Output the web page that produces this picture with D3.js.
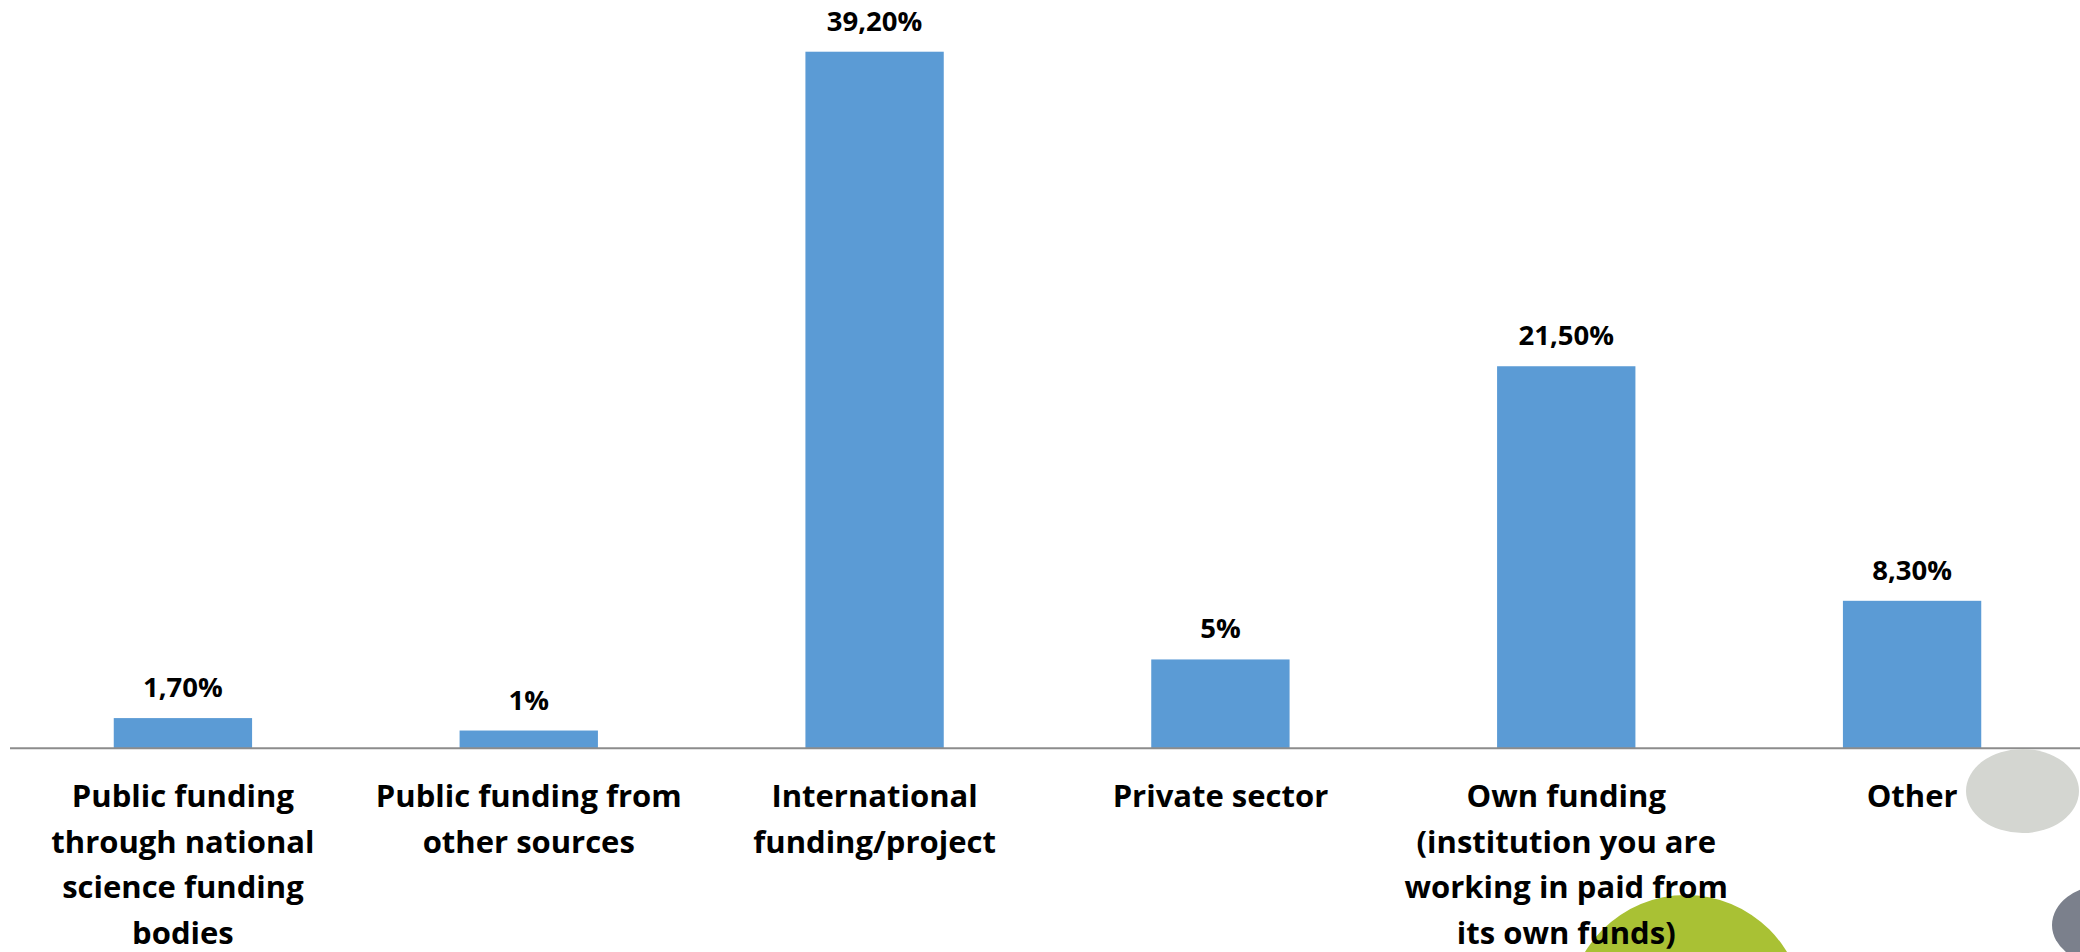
<!DOCTYPE html>
<html>
<head>
<meta charset="utf-8">
<script src="https://cdn.jsdelivr.net/npm/d3@7"></script>
<style>
  html, body { margin: 0; padding: 0; background: #ffffff; }
  svg { display: block; }
</style>
</head>
<body>
<svg id="chart" width="2080" height="952"></svg>
<script>
// ---- data ----
const categories = [
  "Public funding\nthrough national\nscience funding\nbodies",
  "Public funding from\nother sources",
  "International\nfunding/project",
  "Private sector",
  "Own funding\n(institution you are\nworking in paid from\nits own funds)",
  "Other"
];
const values = [1.7, 1, 39.2, 5, 21.5, 8.3];
const valueLabels = ["1,70%", "1%", "39,20%", "5%", "21,50%", "8,30%"];

// ---- layout ----
const W = 2080, H = 952;
const baseY = 748.3;
const svg = d3.select("#chart");

const x = d3.scaleBand()
  .domain(d3.range(categories.length))
  .range([10, 2085])
  .paddingInner(0.6)
  .paddingOuter(0.3);

const y = d3.scaleLinear()
  .domain([0, 40])
  .range([baseY, baseY - 710.8]);

// bars
svg.append("g").selectAll("rect")
  .data(values)
  .join("rect")
  .attr("x", (d, i) => x(i))
  .attr("width", x.bandwidth())
  .attr("y", d => y(d))
  .attr("height", d => y(0) - y(d))
  .attr("fill", "#5b9bd5");

// value labels
svg.append("g").selectAll("text")
  .data(values)
  .join("text")
  .attr("x", (d, i) => x(i) + x.bandwidth() / 2)
  .attr("y", d => y(d) - 21)
  .attr("text-anchor", "middle")
  .attr("font-family", "'Open Sans', Lato, sans-serif")
  .attr("font-weight", "bold")
  .attr("font-size", 27.5)
  .attr("fill", "#000")
  .text((d, i) => valueLabels[i]);

// axis line
const axis = d3.axisBottom(x).tickSize(0).tickFormat("");
const ax = svg.append("g").attr("transform", `translate(0,${baseY})`).call(axis);
ax.select(".domain").remove();
ax.append("line")
  .attr("x1", 10).attr("x2", W)
  .attr("y1", 0).attr("y2", 0)
  .attr("stroke", "#8c8c8c")
  .attr("stroke-width", 2);

// category labels
const catG = svg.append("g").selectAll("text")
  .data(categories)
  .join("text")
  .attr("text-anchor", "middle")
  .attr("font-family", "'Open Sans', Lato, sans-serif")
  .attr("font-weight", "bold")
  .attr("font-size", 31)
  .attr("fill", "#000");
catG.each(function(d, i) {
  const t = d3.select(this);
  d.split("\n").forEach((line, j) => {
    t.append("tspan")
      .attr("x", x(i) + x.bandwidth() / 2)
      .attr("y", 807 + j * 45.5)
      .text(line);
  });
});

// decorative shapes
svg.append("ellipse")
  .attr("cx", 2022.5).attr("cy", 791)
  .attr("rx", 56.5).attr("ry", 42)
  .attr("fill", "#d4d6d1");
svg.append("circle")
  .attr("cx", 1686).attr("cy", 1013)
  .attr("r", 118)
  .attr("fill", "#a9c134");
svg.append("ellipse")
  .attr("cx", 2105).attr("cy", 925)
  .attr("rx", 53).attr("ry", 40)
  .attr("fill", "#7b808c");

// keep the overlapping label above the green circle
svg.node().appendChild(catG.nodes()[4]);
</script>
</body>
</html>
